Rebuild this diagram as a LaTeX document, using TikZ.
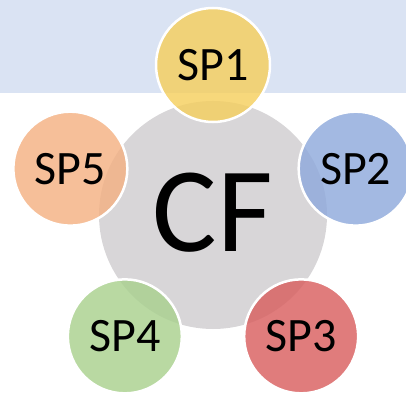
\documentclass[tikz,border=0pt]{standalone}
\usepackage{fontspec}
\setmainfont{Carlito}
\usetikzlibrary{calc}
\definecolor{bandblue}{HTML}{DAE3F3}
\definecolor{coregray}{HTML}{D8D6D8}
\definecolor{spgold}{HTML}{F5CF5E}
\definecolor{spblue}{HTML}{8FAADC}
\definecolor{spred}{HTML}{D95F5F}
\definecolor{spgreen}{HTML}{A9D18E}
\definecolor{sporange}{HTML}{F4B183}
\tikzset{
  spcircle/.style={circle, minimum size=114pt, inner sep=0pt, draw=white,
    line width=2.5pt, fill opacity=0.82, text opacity=1,
    font=\fontsize{48}{48}\selectfont},
  core/.style={circle, minimum size=228pt, inner sep=0pt, fill=coregray,
    font=\fontsize{121}{121}\selectfont}
}
\begin{document}
\begin{tikzpicture}[x=1pt,y=1pt]
  \useasboundingbox (0,0) rectangle (406,394);
  \clip (0,0) rectangle (406,394);
  % header band
  \fill[bandblue] (0,301.3) rectangle (406,394);
  % central circle
  \node[core] (cf) at (213,179) {};
  % satellite circles on a regular pentagon
  \node[spcircle, fill=spgold]   (sp1) at ($(213,179)+(90:150)$)   {SP1};
  \node[spcircle, fill=spblue]   (sp2) at ($(213,179)+(18:150)$)   {SP2};
  \node[spcircle, fill=spred]    (sp3) at ($(213,179)+(-54:150)$)  {SP3};
  \node[spcircle, fill=spgreen]  (sp4) at ($(213,179)+(-126:150)$) {SP4};
  \node[spcircle, fill=sporange] (sp5) at ($(213,179)+(162:150)$)  {SP5};
  % centre label on top
  \node[font=\fontsize{121}{121}\selectfont] (cflabel) at ($(cf.center)+(0,2)$) {CF};
\end{tikzpicture}
\end{document}
